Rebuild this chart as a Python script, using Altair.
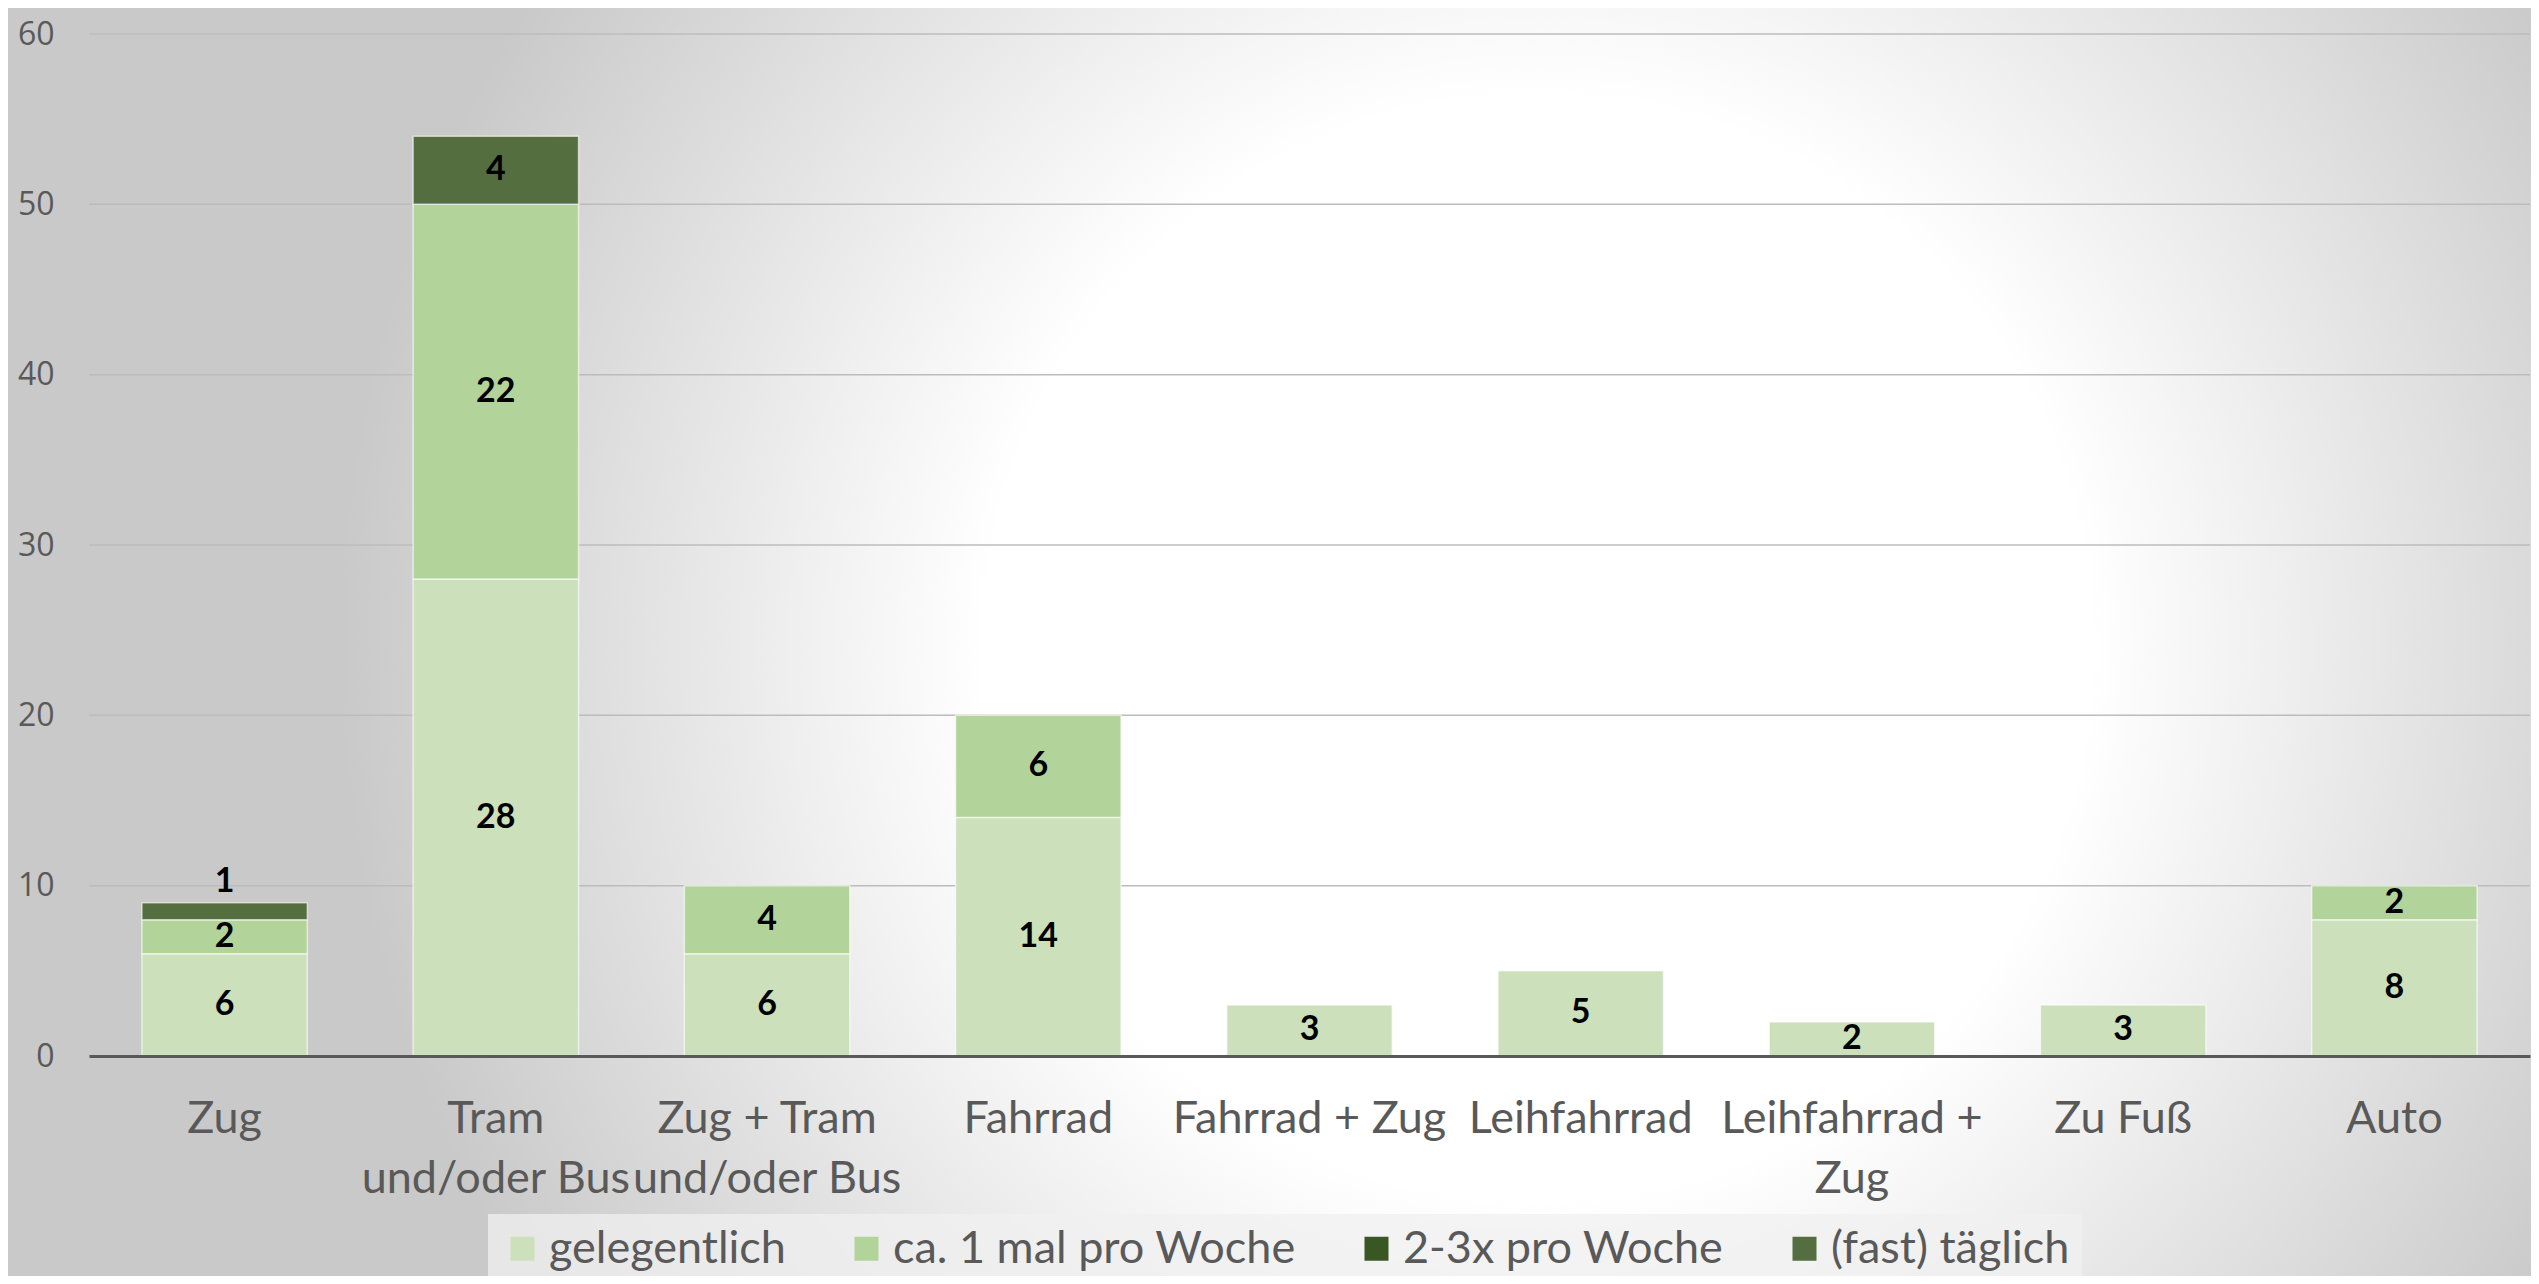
import altair as alt
import pandas as pd

categories = ["Zug", "Tram|und/oder Bus", "Zug + Tram|und/oder Bus", "Fahrrad",
              "Fahrrad + Zug", "Leihfahrrad", "Leihfahrrad +|Zug", "Zu Fuß", "Auto"]
series = ["gelegentlich", "ca. 1 mal pro Woche", "2-3x pro Woche", "(fast) täglich"]
colors = ["#CBE0BB", "#B2D49A", "#385723", "#556E40"]

gelegentlich = [6, 28, 6, 14, 3, 5, 2, 3, 8]
einmal_woche = [2, 22, 4, 6, 0, 0, 0, 0, 2]
zwei_drei_woche = [0, 0, 0, 0, 0, 0, 0, 0, 0]
fast_taeglich = [1, 4, 0, 0, 0, 0, 0, 0, 0]

y_ticks = [0, 10, 20, 30, 40, 50, 60]

rows = []
for si, (name, vals) in enumerate(zip(series, [gelegentlich, einmal_woche, zwei_drei_woche, fast_taeglich])):
    for c, v in zip(categories, vals):
        rows.append({"cat": c, "series": name, "value": v, "order": si})
df = pd.DataFrame(rows)

TOP = 26
W, H = 2441, 1022
yscale = alt.Scale(domain=[0, 60], nice=False, zero=True)
xscale = alt.Scale(paddingInner=0.39, paddingOuter=0.195)

yaxis = alt.Axis(values=y_ticks, labelFont="Open Sans", labelFontSize=32, labelColor="#595959",
                 labelPadding=35, ticks=False, domain=False, grid=False, title=None, zindex=1)
xaxis = alt.Axis(labelAngle=0, labelFont="Lato", labelFontSize=45, labelColor="#595959",
                 labelExpr="split(datum.label, '|')", labelLineHeight=60, labelPadding=40,
                 ticks=False, domainColor="#595959", domainWidth=3, grid=False, zindex=1,
                 labelLimit=400, title=None)

grad = alt.RadialGradient(
    gradient="radial", x1=0.5, y1=0.5, r1=0, x2=0.5, y2=0.5, r2=0.5,
    stops=[alt.GradientStop(offset=0, color="#ffffff"),
           alt.GradientStop(offset=0.46, color="#ffffff"),
           alt.GradientStop(offset=1, color="#c9c9c9")])

bg = alt.Chart(pd.DataFrame({"a": [0]})).mark_rect(color=grad).encode(
    x=alt.value(249), x2=alt.value(2649), y=alt.value(-586), y2=alt.value(1814))

grid = alt.Chart(pd.DataFrame({"t": y_ticks})).mark_rule(color="#bcbcbc", strokeWidth=1.5).encode(
    y=alt.Y("t:Q", scale=yscale, axis=yaxis))

bars = alt.Chart(df).transform_filter("datum.value > 0").mark_bar(
    stroke="#ffffff", strokeWidth=1.5, strokeOpacity=0.6
).encode(
    x=alt.X("cat:N", sort=categories, scale=xscale, axis=xaxis),
    y=alt.Y("value:Q", stack="zero", scale=yscale, axis=yaxis),
    color=alt.Color("series:N", scale=alt.Scale(domain=series, range=colors),
                    legend=alt.Legend(title=None, orient="none", direction="horizontal",
                                      columns=4, legendX=399, legendY=1180,
                                      symbolType="square", symbolSize=576,
                                      symbolStrokeWidth=0, labelFont="Lato",
                                      labelFontSize=45, labelColor="#595959",
                                      labelOffset=4, columnPadding=58,
                                      padding=12, fillColor="rgba(240,240,240,0.75)",
                                      labelLimit=600)),
    order=alt.Order("order:Q", sort="ascending"),
)

labels = alt.Chart(df).transform_filter("datum.value > 0").transform_stack(
    stack="value", groupby=["cat"], as_=["y0", "y1"], sort=[alt.SortField("order", "ascending")]
).transform_calculate(
    ymid="datum.value < 1.5 ? datum.y1 + 1.2 : (datum.y0 + datum.y1) / 2"
).mark_text(font="Lato", fontWeight="bold", fontSize=34, color="#000000", baseline="middle").encode(
    x=alt.X("cat:N", sort=categories, scale=xscale, axis=xaxis),
    y=alt.Y("ymid:Q", scale=yscale, axis=yaxis),
    text=alt.Text("value:Q"),
)

chart = alt.layer(bg, grid, bars, labels).properties(
    width=W, height=H,
    autosize=alt.AutoSizeParams(type="none"),
    padding={"left": 81, "top": TOP, "right": 1, "bottom": 1268 - TOP - H},
    background="#c9c9c9",
).configure_view(stroke=None)

chart.save("out.html", embed_options={"renderer": "svg", "actions": False})
